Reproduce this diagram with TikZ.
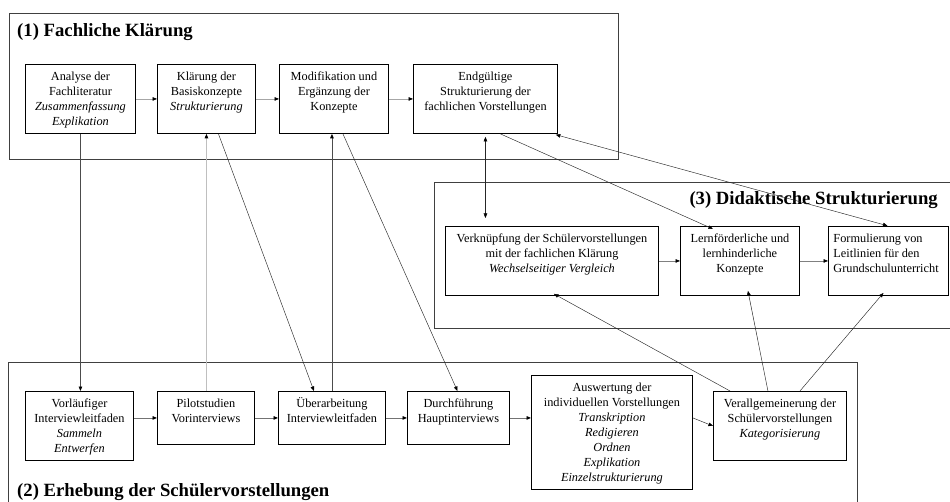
\documentclass[tikz,border=0pt]{standalone}
\usepackage{fontspec}
\setmainfont{Liberation Serif}
\usetikzlibrary{arrows.meta}

% text inside a box: width, height, lines
\newcommand{\ctext}[3]{\parbox[t][#2][t]{#1}{\centering\strut #3}}
\newcommand{\ltext}[3]{\parbox[t][#2][t]{#1}{\raggedright\strut #3}}

\begin{document}
\begin{tikzpicture}[x=1pt, y=-1pt,
  font=\fontsize{12.3}{15}\selectfont,
  panel/.style={draw=black!75, line width=1pt},
  heading/.style={font=\fontsize{18.7}{22}\selectfont\bfseries, inner sep=0pt},
  box/.style={draw=black, line width=0.9pt, anchor=north west, inner xsep=0pt, inner ysep=6pt},
  arrowtip/.style={-{Triangle[length=4.5pt, width=3.6pt, color=black]}},
  bothtips/.style={arrows={Triangle[length=4.5pt, width=3.6pt, color=black]}-{Triangle[length=4.5pt, width=3.6pt, color=black]}},
  flow/.style={arrowtip, draw=black!35, line width=0.6pt},
  link/.style={arrowtip, draw=black!85, line width=0.45pt}]

  \useasboundingbox (0,0) rectangle (950,502);

  % Frames
  \draw[panel] (9,14) rectangle (618,160);
  \draw[panel] (434,183) rectangle (965,329);
  \draw[panel] (8,363) rectangle (857,515);

  \node[heading, anchor=west] (t1) at (17,32) {(1) Fachliche Klärung};
  \node[heading, anchor=east] (t3) at (938,200) {(3) Didaktische Strukturierung};
  \node[heading, anchor=west] (t2) at (17,492) {(2) Erhebung der Schülervorstellungen};

  % (1) Fachliche Klaerung
  \node[box] (ana) at (25,64) {\ctext{110pt}{57pt}{Analyse der\\ Fachliteratur\\ \textit{Zusammenfassung}\\ \textit{Explikation}}};
  \node[box] (klae) at (157,64) {\ctext{98pt}{57pt}{Klärung der\\ Basiskonzepte\\ \textit{Strukturierung}}};
  \node[box] (modi) at (279,64) {\ctext{109pt}{57pt}{Modifikation und\\ Ergänzung der\\ Konzepte}};
  \node[box] (endg) at (413,64) {\ctext{144pt}{57pt}{Endgültige\\ Strukturierung der\\ fachlichen Vorstellungen}};

  % (3) Didaktische Strukturierung
  \node[box] (verk) at (445,226) {\ctext{213pt}{57pt}{Verknüpfung der Schülervorstellungen\\ mit der fachlichen Klärung\\ \textit{Wechselseitiger Vergleich}}};
  \node[box] (lern) at (680,226) {\ctext{119pt}{57pt}{Lernförderliche und\\ lernhinderliche\\ Konzepte}};
  \node[box, inner xsep=5pt] (form) at (828,226) {\ltext{110pt}{57pt}{Formulierung von\\ Leitlinien für den\\ Grundschulunterricht}};

  % (2) Erhebung der Schuelervorstellungen
  \node[box] (vorl) at (25,391) {\ctext{108pt}{57pt}{Vorläufiger\\ Interviewleitfaden\\ \textit{Sammeln}\\ \textit{Entwerfen}}};
  \node[box] (pilot) at (157,391) {\ctext{97pt}{41pt}{Pilotstudien\\ Vorinterviews}};
  \node[box] (ueber) at (278,391) {\ctext{107pt}{41pt}{Überarbeitung\\ Interviewleitfaden}};
  \node[box] (durch) at (407,391) {\ctext{102pt}{41pt}{Durchführung\\ Hauptinterviews}};
  \node[box] (ausw) at (531,375) {\ctext{161pt}{102pt}{Auswertung der\\ individuellen Vorstellungen\\ \textit{Transkription}\\ \textit{Redigieren}\\ \textit{Ordnen}\\ \textit{Explikation}\\ \textit{Einzelstrukturierung}}};
  \node[box] (verall) at (713,391) {\ctext{133pt}{57pt}{Verallgemeinerung der\\ Schülervorstellungen\\ \textit{Kategorisierung}}};

  % Flow inside the frames
  \draw[flow] (ana.east) -- (klae.west);
  \draw[flow] (klae.east) -- (modi.west);
  \draw[flow] (modi.east) -- (endg.west);

  \draw[flow, draw=black!50] (verk.east) -- (lern.west);
  \draw[flow, draw=black!50] (lern.east) -- (form.west);

  \draw[flow, draw=black!55, line width=0.9pt] (vorl.east |- pilot.west) -- (pilot.west);
  \draw[flow, draw=black!55, line width=0.9pt] (pilot.east) -- (ueber.west);
  \draw[flow, draw=black!55, line width=0.9pt] (ueber.east) -- (durch.west);
  \draw[flow, draw=black!55, line width=0.9pt] (durch.east) -- (ausw.west |- durch.east);
  \draw[link] (ausw.east |- durch.east) -- (verall.west);

  % Connections between the frames
  \draw[link, draw=black!70, line width=0.7pt] (ana.south) -- (ana.south |- vorl.north);
  \draw[flow, draw=black!25, line width=0.8pt] (pilot.north -| klae.south) -- (klae.south);
  \draw[link] ([xshift=12pt]klae.south) -- ([xshift=-18pt]ueber.north);
  \draw[link, draw=black!70, line width=0.8pt] (ueber.north) -- (ueber.north |- modi.south);
  \draw[link] ([xshift=9pt]modi.south) -- ([xshift=-1pt]durch.north);

  \draw[link, bothtips, shorten <=3pt, shorten >=8pt] (endg.south) -- (endg.south |- verk.north);
  \draw[link] ([xshift=15pt]endg.south) -- ([xshift=-27pt, yshift=-3pt]lern.north);
  \draw[link, bothtips, shorten <=3pt, shorten >=1pt] ([xshift=-5pt]endg.south east) -- (form.north);

  \draw[link] ([xshift=17pt]verall.north west) -- ([xshift=2pt, yshift=2pt]verk.south);
  \draw[link] ([xshift=-12pt]verall.north) -- ([xshift=8pt, yshift=5pt]lern.south);
  \draw[link] ([xshift=20pt]verall.north) -- ([xshift=-5pt, yshift=3pt]form.south);

\end{tikzpicture}
\end{document}
